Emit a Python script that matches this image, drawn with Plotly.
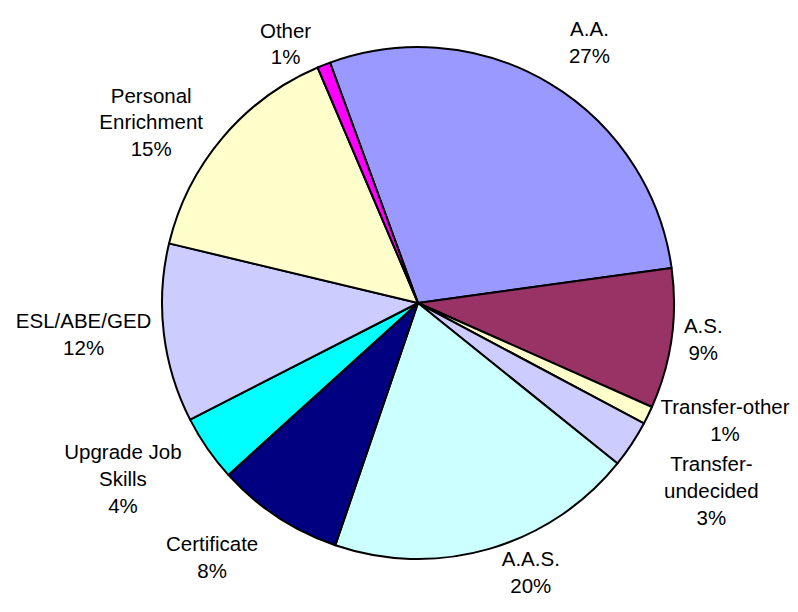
import plotly.graph_objects as go

categories = ["A.A.", "A.S.", "Transfer-other", "Transfer-undecided", "A.A.S.",
              "Certificate", "Upgrade Job Skills", "ESL/ABE/GED",
              "Personal Enrichment", "Other"]
display_names = ["A.A.", "A.S.", "Transfer-other", "Transfer-<br>undecided", "A.A.S.",
                 "Certificate", "Upgrade Job<br>Skills", "ESL/ABE/GED",
                 "Personal<br>Enrichment", "Other"]
shares = [28.4, 8.85, 1.14, 2.98, 19.46, 8.05, 4.19, 11.27, 14.85, 0.83]
percent_labels = ["27%", "9%", "1%", "3%", "20%", "8%", "4%", "12%", "15%", "1%"]
colors = ["#9999FF", "#993366", "#FFFFCC", "#CCCCFF", "#CCFFFF",
          "#000080", "#00FFFF", "#CCCCFF", "#FFFFCC", "#FF00FF"]

FONT = dict(family="Arial, Liberation Sans, sans-serif", size=20.5, color="black")

# label placement tweaks (empty lines nudge a label away from / toward the pie)
pad_before = {"Transfer-undecided": 2, "Upgrade Job Skills": 1, "Certificate": 1}
pad_after = {"A.A.": 1}
# labels drawn on an invisible copy of the pie so that they do not get
# shifted by their neighbours (which would add leader lines)
separate = {"Transfer-undecided", "Upgrade Job Skills"}

BLANK = "\u00a0<br>"
label_texts = []
for c, name, pct in zip(categories, display_names, percent_labels):
    label_texts.append(BLANK * pad_before.get(c, 0) + name + "<br>" + pct
                       + "<br>\u00a0" * pad_after.get(c, 0))

main_pos = ["none" if c in separate else "outside" for c in categories]
extra_pos = ["outside" if c in separate else "none" for c in categories]

common = dict(
    labels=categories,
    values=shares,
    text=label_texts,
    texttemplate="%{text}",
    sort=False,
    direction="clockwise",
    rotation=-20.1,
    outsidetextfont=FONT,
    showlegend=False,
    automargin=False,
)

fig = go.Figure()
fig.add_trace(go.Pie(
    textposition=main_pos,
    marker=dict(colors=colors, line=dict(color="black", width=2)),
    hoverinfo="label+percent",
    **common,
))
fig.add_trace(go.Pie(
    textposition=extra_pos,
    marker=dict(colors=["rgba(0,0,0,0)"] * len(categories), line=dict(width=0)),
    hoverinfo="skip",
    **common,
))

fig.update_layout(
    width=798, height=612,
    margin=dict(l=154, r=132, t=39, b=61),
    paper_bgcolor="white", plot_bgcolor="white",
    font=FONT,
)

fig.write_html("out.html")
